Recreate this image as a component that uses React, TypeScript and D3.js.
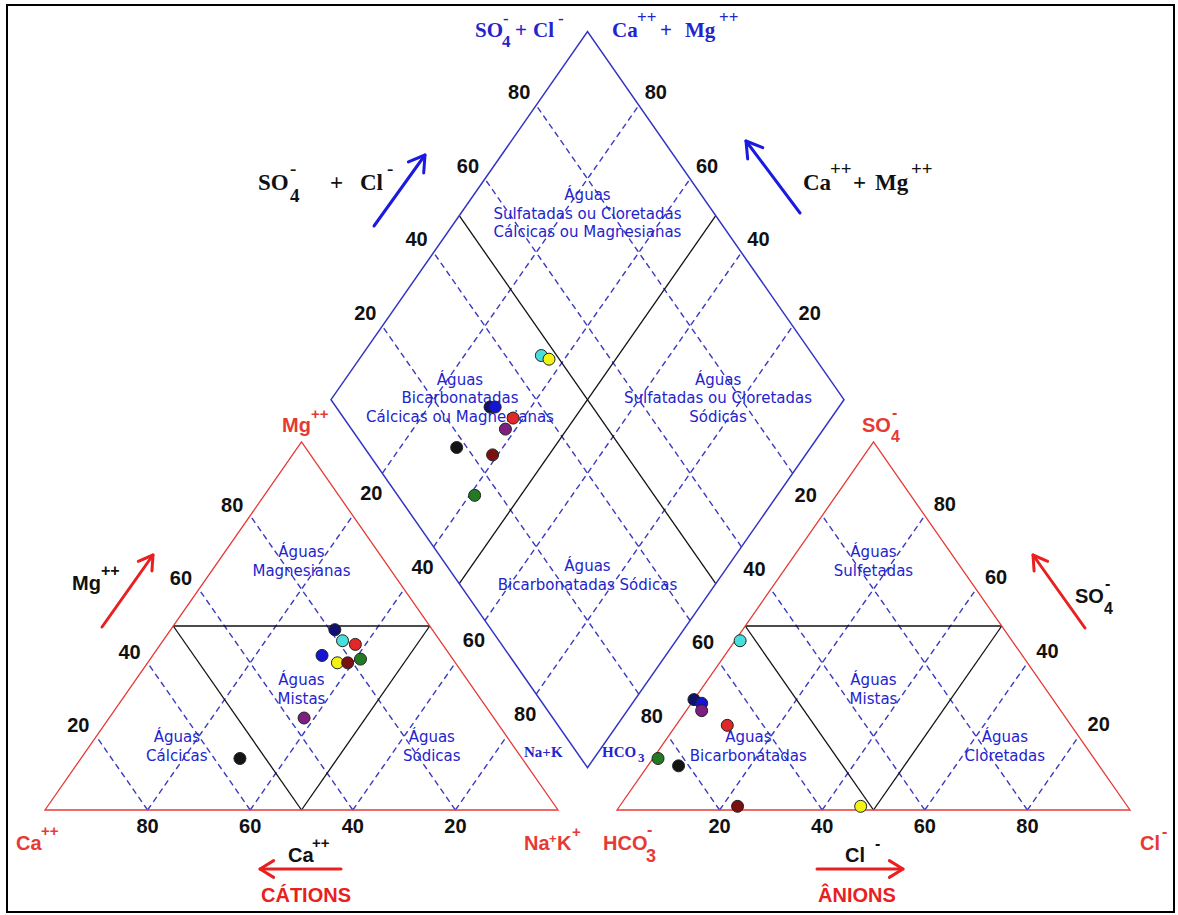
import React from 'react';
import * as d3 from 'd3';

// ---------------- data ----------------
const sampleColors = ['#10106e', '#48dede', '#e02828', '#1414d8', '#f2f214', '#7a1010', '#237a23', '#7e1e7e', '#141414'];
const caPct = [19, 19, 17, 25, 23, 21, 18, 37, 55];
const mgPct = [49, 46, 45, 42, 40, 40, 41, 25, 14];
const nakPct = [32, 35, 38, 33, 37, 39, 41, 38, 31];
const hco3Pct = [70, 53, 67, 69, 52, 76, 85, 70, 82];
const so4Pct = [30, 46, 23, 29, 1, 1, 14, 27, 12];
const clPct = [0, 1, 10, 2, 47, 23, 1, 3, 6];
const gridLevels = [20, 40, 60, 80];
const tickLabels = ['20', '40', '60', '80'];

// ---------------- geometry ----------------
const X0 = 45;
const SIDE = 513;
const GAP = 59;
const BASE_Y = 810;
const TOP_Y = 442;
const TH = BASE_Y - TOP_Y;

const xL = d3.scaleLinear().domain([0, 100]).range([X0, X0 + SIDE]);
const xR = d3.scaleLinear().domain([0, 100]).range([X0 + SIDE + GAP, X0 + 2 * SIDE + GAP]);
const yT = d3.scaleLinear().domain([0, 100]).range([BASE_Y, TOP_Y]);
const BX = X0 + SIDE + GAP / 2;
const BY = BASE_Y - (GAP / 2) * TH / (SIDE / 2);
const xD = d3.scaleLinear().domain([-100, 100]).range([BX - SIDE / 2, BX + SIDE / 2]);
const yD = d3.scaleLinear().domain([0, 200]).range([BY, BY - 2 * TH]);

type P = [number, number];
const cat = (na: number, mg: number): P => [xL(na + mg / 2), yT(mg)];
const ani = (cl: number, so4: number): P => [xR(cl + so4 / 2), yT(so4)];
const dia = (n: number, h: number): P => [xD(n - h), yD(200 - n - h)];

const BLUE = '#3434c4';
const DASH = '#3a3ac0';
const RED = '#e63a36';
const TXTBLUE = '#2424cc';
const SANS = '"Liberation Sans", Arial, sans-serif';
const SERIF = '"Liberation Serif", "Times New Roman", serif';
const LBL = '"DejaVu Sans", Verdana, sans-serif';

const Line = ({ a, b, stroke, dash, w = 1.3 }: { a: P; b: P; stroke: string; dash?: string; w?: number }) => (
  <line x1={a[0]} y1={a[1]} x2={b[0]} y2={b[1]} stroke={stroke} strokeWidth={w} strokeDasharray={dash} />
);

type Piece = { t: string; dx: number; dy?: number; s?: number };
const Formula = ({ x, y, pieces, size, fill, family }: { x: number; y: number; pieces: Piece[]; size: number; fill: string; family: string }) => (
  <g fill={fill} fontFamily={family} fontWeight="bold">
    {pieces.map((p, i) => (
      <text key={i} x={x + p.dx} y={y + (p.dy || 0)} fontSize={p.s || size}>{p.t}</text>
    ))}
  </g>
);

const Arrow = ({ a, b, stroke, w, head }: { a: P; b: P; stroke: string; w: number; head: number }) => {
  const ang = Math.atan2(b[1] - a[1], b[0] - a[0]);
  const h1: P = [b[0] - head * Math.cos(ang - 0.55), b[1] - head * Math.sin(ang - 0.55)];
  const h2: P = [b[0] - head * Math.cos(ang + 0.55), b[1] - head * Math.sin(ang + 0.55)];
  return (
    <g stroke={stroke} strokeWidth={w} fill="none" strokeLinecap="round" strokeLinejoin="round">
      <line x1={a[0]} y1={a[1]} x2={b[0]} y2={b[1]} />
      <polyline points={`${h1[0]},${h1[1]} ${b[0]},${b[1]} ${h2[0]},${h2[1]}`} />
    </g>
  );
};

const Region = ({ p, lines }: { p: P; lines: string[] }) => (
  <g fill={TXTBLUE} fontFamily={LBL} fontSize={15} textAnchor="middle">
    {lines.map((l, i) => (
      <text key={i} x={p[0]} y={p[1] + i * 18.5} dominantBaseline="central">{l}</text>
    ))}
  </g>
);

const Tick = ({ p, t }: { p: P; t: string }) => (
  <text x={p[0]} y={p[1]} fontFamily={SANS} fontWeight="bold" fontSize={20} textAnchor="middle" dominantBaseline="central" fill="#111">{t}</text>
);

export default function App() {
  const off = (p: P, dx: number, dy: number): P => [p[0] + dx, p[1] + dy];

  const triGrid = (f: (a: number, b: number) => P, key: string) => (
    <g key={key}>
      {gridLevels.map((v) => (
        <g key={v}>
          <Line a={f(100 - v, 0)} b={f(0, 100 - v)} stroke={DASH} dash="6,4" w={1.4} />
          <Line a={f(v, 0)} b={f(v, 100 - v)} stroke={DASH} dash="6,4" w={1.4} />
        </g>
      ))}
      <Line a={f(50, 0)} b={f(0, 50)} stroke="#111" />
      <Line a={f(50, 0)} b={f(50, 50)} stroke="#111" />
      <Line a={f(0, 50)} b={f(50, 50)} stroke="#111" />
      <polygon points={[f(0, 0), f(100, 0), f(0, 100)].map((p) => p.join(',')).join(' ')} fill="none" stroke={RED} strokeWidth={1.3} />
    </g>
  );

  const diamondPts = [dia(100, 100), dia(0, 100), dia(0, 0), dia(100, 0)];

  return (
    <svg width={1178} height={915} style={{ position: 'absolute', left: 0, top: 0, background: '#fff' }}>
      <rect x={7} y={5} width={1167} height={907} fill="#fff" stroke="#000" strokeWidth={2} />

      {triGrid(cat, 'L')}
      {triGrid(ani, 'R')}

      {gridLevels.map((v) => (
        <g key={'d' + v}>
          <Line a={dia(v, 100)} b={dia(v, 0)} stroke={DASH} dash="6,4" w={1.4} />
          <Line a={dia(100, v)} b={dia(0, v)} stroke={DASH} dash="6,4" w={1.4} />
        </g>
      ))}
      <Line a={dia(50, 100)} b={dia(50, 0)} stroke="#111" />
      <Line a={dia(100, 50)} b={dia(0, 50)} stroke="#111" />
      <polygon points={diamondPts.map((p) => p.join(',')).join(' ')} fill="none" stroke={BLUE} strokeWidth={1.5} />

      <Region p={[xL(50), yT(70)]} lines={['Águas', 'Magnesianas']} />
      <Region p={[xL(50), yT(35.3)]} lines={['Águas', 'Mistas']} />
      <Region p={[xL(25.7), yT(19.8)]} lines={['Águas', 'Cálcicas']} />
      <Region p={[xL(75.4), yT(19.8)]} lines={['Águas', 'Sódicas']} />
      <Region p={[xR(50), yT(70)]} lines={['Águas', 'Sulfetadas']} />
      <Region p={[xR(50), yT(35.3)]} lines={['Águas', 'Mistas']} />
      <Region p={[xR(25.6), yT(19.8)]} lines={['Águas', 'Bicarbonatadas']} />
      <Region p={[xR(75.6), yT(19.8)]} lines={['Águas', 'Cloretadas']} />
      <Region p={[xD(0), yD(155.6)]} lines={['Águas', 'Sulfatadas ou Cloretadas', 'Cálcicas ou Magnesianas']} />
      <Region p={[xD(-49.7), yD(105.4)]} lines={['Águas', 'Bicarbonatadas', 'Cálcicas ou Magnesianas']} />
      <Region p={[xD(50.9), yD(105.4)]} lines={['Águas', 'Sulfatadas ou Cloretadas', 'Sódicas']} />
      <Region p={[xD(0), yD(54.8)]} lines={['Águas', 'Bicarbonatadas Sódicas']} />

      {gridLevels.map((v, i) => (
        <g key={'t' + v}>
          <Tick p={off([xL(100 - v), BASE_Y], 0, 16)} t={tickLabels[i]} />
          <Tick p={off(cat(0, v), -18, -11)} t={tickLabels[i]} />
          <Tick p={off([xR(v), BASE_Y], 0, 16)} t={tickLabels[i]} />
          <Tick p={off(ani(100 - v, v), 20, -12)} t={tickLabels[i]} />
          <Tick p={off(dia(0, 100 - v), -17, -13)} t={tickLabels[i]} />
          <Tick p={off(dia(100 - v, 0), 17, -13)} t={tickLabels[i]} />
          <Tick p={off(dia(v, 100), -11, 20)} t={tickLabels[i]} />
          <Tick p={off(dia(100, v), 13, 22)} t={tickLabels[i]} />
        </g>
      ))}

      {sampleColors.map((c, i) => {
        const p = cat(nakPct[i], mgPct[i]);
        return <circle key={'c' + i} cx={p[0]} cy={p[1]} r={6} fill={c} stroke="#222" strokeWidth={1} />;
      })}
      {sampleColors.map((c, i) => {
        const p = ani(clPct[i], so4Pct[i]);
        return <circle key={'a' + i} cx={p[0]} cy={p[1]} r={6} fill={c} stroke="#222" strokeWidth={1} />;
      })}
      {sampleColors.map((c, i) => {
        const p = dia(nakPct[i], hco3Pct[i]);
        return <circle key={'d' + i} cx={p[0]} cy={p[1]} r={6} fill={c} stroke="#222" strokeWidth={1} />;
      })}

      <Formula x={524} y={757} size={15} fill={TXTBLUE} family={SERIF} pieces={[{ t: 'Na+K', dx: 0 }]} />
      <Formula x={602} y={757} size={15} fill={TXTBLUE} family={SERIF} pieces={[{ t: 'HCO', dx: 0 }, { t: '3', dx: 36, dy: 5, s: 13 }]} />

      <Formula x={475} y={37} size={21} fill={TXTBLUE} family={SERIF}
        pieces={[{ t: 'SO', dx: 0 }, { t: '4', dx: 27, dy: 10, s: 17 }, { t: '-', dx: 28, dy: -13, s: 17 }, { t: '+', dx: 40 }, { t: 'Cl', dx: 58 }, { t: '-', dx: 83, dy: -13, s: 17 }]} />
      <Formula x={612} y={37} size={21} fill={TXTBLUE} family={SERIF}
        pieces={[{ t: 'Ca', dx: 0 }, { t: '++', dx: 25, dy: -14, s: 17 }, { t: '+', dx: 48 }, { t: 'Mg', dx: 73 }, { t: '++', dx: 107, dy: -14, s: 17 }]} />

      <Formula x={258} y={190} size={23} fill="#111" family={SERIF}
        pieces={[{ t: 'SO', dx: 0 }, { t: '4', dx: 32, dy: 12, s: 19 }, { t: '-', dx: 32, dy: -15, s: 19 }, { t: '+', dx: 72 }, { t: 'Cl', dx: 102 }, { t: '-', dx: 129, dy: -15, s: 19 }]} />
      <Arrow a={[374, 226]} b={[425, 155]} stroke="#1a1ae0" w={3} head={18} />
      <Formula x={803} y={190} size={23} fill="#111" family={SERIF}
        pieces={[{ t: 'Ca', dx: 0 }, { t: '++', dx: 27, dy: -15, s: 19 }, { t: '+', dx: 50 }, { t: 'Mg', dx: 72 }, { t: '++', dx: 108, dy: -15, s: 19 }]} />
      <Arrow a={[800, 213]} b={[746, 141]} stroke="#1a1ae0" w={3} head={18} />

      <Formula x={72} y={590} size={20} fill="#111" family={SANS}
        pieces={[{ t: 'Mg', dx: 0 }, { t: '++', dx: 29, dy: -14, s: 16 }]} />
      <Arrow a={[102, 627]} b={[153, 555]} stroke="#e82020" w={3} head={16} />
      <Formula x={1075} y={603} size={20} fill="#111" family={SANS}
        pieces={[{ t: 'SO', dx: 0 }, { t: '4', dx: 29, dy: 11, s: 16 }, { t: '-', dx: 30, dy: -14, s: 16 }]} />
      <Arrow a={[1085, 628]} b={[1033, 555]} stroke="#e82020" w={3} head={16} />

      <Formula x={282} y={432} size={20} fill={RED} family={SANS} pieces={[{ t: 'Mg', dx: 0 }, { t: '++', dx: 29, dy: -13, s: 15 }]} />
      <Formula x={862} y={432} size={20} fill={RED} family={SANS} pieces={[{ t: 'SO', dx: 0 }, { t: '4', dx: 29, dy: 10, s: 16 }, { t: '-', dx: 30, dy: -14, s: 16 }]} />
      <Formula x={16} y={850} size={20} fill={RED} family={SANS} pieces={[{ t: 'Ca', dx: 0 }, { t: '++', dx: 25, dy: -14, s: 15 }]} />
      <Formula x={524} y={850} size={20} fill={RED} family={SANS} pieces={[{ t: 'Na', dx: 0 }, { t: '+', dx: 25, dy: -7, s: 13 }, { t: 'K', dx: 33 }, { t: '+', dx: 48, dy: -13, s: 15 }]} />
      <Formula x={603} y={850} size={20} fill={RED} family={SANS} pieces={[{ t: 'HCO', dx: 0 }, { t: '3', dx: 43, dy: 12, s: 18 }, { t: '-', dx: 44, dy: -15, s: 16 }]} />
      <Formula x={1140} y={850} size={20} fill={RED} family={SANS} pieces={[{ t: 'Cl', dx: 0 }, { t: '-', dx: 22, dy: -13, s: 16 }]} />

      <Formula x={288} y={862} size={20} fill="#111" family={SANS} pieces={[{ t: 'Ca', dx: 0 }, { t: '++', dx: 24, dy: -14, s: 15 }]} />
      <Arrow a={[341, 869]} b={[260, 869]} stroke="#e82020" w={3} head={16} />
      <text x={306} y={902} fontFamily={SANS} fontWeight="bold" fontSize={20} fill="#e82020" textAnchor="middle">CÁTIONS</text>
      <Formula x={845} y={862} size={20} fill="#111" family={SANS} pieces={[{ t: 'Cl', dx: 0 }, { t: '-', dx: 30, dy: -13, s: 16 }]} />
      <Arrow a={[817, 869]} b={[903, 869]} stroke="#e82020" w={3} head={16} />
      <text x={857} y={902} fontFamily={SANS} fontWeight="bold" fontSize={20} fill="#e82020" textAnchor="middle">ÂNIONS</text>
    </svg>
  );
}
